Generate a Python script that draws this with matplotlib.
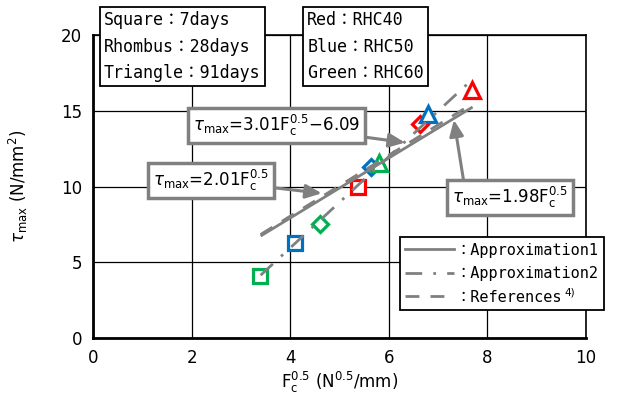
import matplotlib
matplotlib.use("Agg")
import matplotlib.pyplot as plt
from matplotlib.lines import Line2D

plt.rcParams['font.family'] = ['DejaVu Sans', 'Noto Sans CJK JP']
plt.rcParams['mathtext.fontset'] = 'dejavusans'

# data (x = Fc^0.5, y = tau_max)
sq_x = [3.39, 4.10, 5.37]          # 7 days
sq_y = [4.10, 6.30, 9.97]
sq_c = ['#00B050', '#0070C0', '#FF0000']
rh_x = [4.60, 5.64, 6.63]          # 28 days
rh_y = [7.52, 11.30, 14.10]
rh_c = ['#00B050', '#0070C0', '#FF0000']
tr_x = [5.80, 6.80, 7.69]          # 91 days
tr_y = [11.55, 14.80, 16.35]
tr_c = ['#00B050', '#0070C0', '#FF0000']

fit_x = [3.40, 7.70]
coef_approx1 = 1.98
coef_approx2 = (3.01, -6.09)
coef_ref = 2.01

gray = '#808080'
mono = ['DejaVu Sans Mono', 'Noto Sans CJK JP']

fig = plt.figure(figsize=(6.18, 3.97), dpi=100)
ax = fig.add_axes([0.1505, 0.1486, 0.7977, 0.7632])

y1 = [coef_approx1 * x for x in fit_x]
y2 = [coef_approx2[0] * x + coef_approx2[1] for x in fit_x]
y3 = [coef_ref * x for x in fit_x]
ax.plot(fit_x, y1, color=gray, lw=2, solid_capstyle='butt', zorder=3)
ax.plot(fit_x, y2, color=gray, lw=2, dashes=(6, 4, 1, 4), zorder=3)
ax.plot(fit_x, y3, color=gray, lw=2, dashes=(5, 4), zorder=3)

for x, y, c in zip(sq_x, sq_y, sq_c):
    ax.plot(x, y, 's', ms=10, mfc='white', mec=c, mew=2.3, zorder=2)
for x, y, c in zip(rh_x, rh_y, rh_c):
    ax.plot(x, y, 'D', ms=8.5, mfc='white', mec=c, mew=2.3, zorder=2)
for x, y, c in zip(tr_x, tr_y, tr_c):
    ax.plot(x, y, '^', ms=11, mfc='white', mec=c, mew=2.3, zorder=2)

ax.set_xlim(0, 10)
ax.set_ylim(0, 20)
ax.set_xticks([0, 2, 4, 6, 8, 10])
ax.set_yticks([0, 5, 10, 15, 20])
ax.grid(True, color='black', lw=0.9)
ax.set_axisbelow(True)
ax.tick_params(length=0, labelsize=12, pad=8)
for s in ['left', 'bottom']:
    ax.spines[s].set_linewidth(2)
for s in ['top', 'right']:
    ax.spines[s].set_linewidth(1.2)

ax.set_xlabel(r'F$_{\rm c}^{0.5}$ (N$^{0.5}$/mm)', fontsize=12, labelpad=2)
ax.set_ylabel(r'$\tau_{\rm max}$ (N/mm$^2$)', fontsize=12, labelpad=22)

box = dict(boxstyle='square,pad=0.25', fc='white', ec='black', lw=1.3)
fig.text(0.168, 0.972, 'Square：7days\nRhombus：28days\nTriangle：91days',
         ha='left', va='top', fontsize=12, family=mono, linespacing=1.6,
         bbox=box, zorder=5)
fig.text(0.497, 0.972, 'Red：RHC40\nBlue：RHC50\nGreen：RHC60',
         ha='left', va='top', fontsize=12, family=mono, linespacing=1.6,
         bbox=box, zorder=5)

ebox = dict(boxstyle='square,pad=0.3', fc='white', ec=gray, lw=2.5)
arr = dict(arrowstyle='-|>,head_length=0.8,head_width=0.35', color=gray, lw=2.2,
           shrinkA=0, shrinkB=0)
ax.annotate(r'$\tau_{\rm max}$=3.01F$_{\rm c}^{0.5}$$-$6.09', xy=(6.33, 12.9),
            xytext=(3.72, 14.05), ha='center', va='center', fontsize=12,
            bbox=ebox, arrowprops=arr, zorder=6)
ax.annotate(r'$\tau_{\rm max}$=2.01F$_{\rm c}^{0.5}$', xy=(4.64, 9.55),
            xytext=(2.40, 10.4), ha='center', va='center', fontsize=12,
            bbox=ebox, arrowprops=arr, zorder=6)
ax.annotate(r'$\tau_{\rm max}$=1.98F$_{\rm c}^{0.5}$', xy=(7.32, 14.4),
            xytext=(8.45, 9.25), ha='center', va='center', fontsize=12,
            bbox=ebox, arrowprops=dict(arr, relpos=(0.11, 1.0)),
            annotation_clip=False, zorder=6)

handles = [Line2D([], [], color=gray, lw=2),
           Line2D([], [], color=gray, lw=2, dashes=(6, 4, 1, 4)),
           Line2D([], [], color=gray, lw=2, dashes=(5, 4))]
labels = ['：Approximation1', '：Approximation2', '：References']
leg = ax.legend(handles, labels, loc='upper left', bbox_to_anchor=(0.623, 0.332),
                frameon=True, fancybox=False, edgecolor='black', framealpha=1,
                handlelength=3.2, handletextpad=0.1, borderpad=0.35,
                labelspacing=0.55, prop={'family': mono, 'size': 11},
                borderaxespad=0)
leg.get_frame().set_linewidth(1.3)
leg.set_zorder(7)

# superscript "4)" after the References label
fig.canvas.draw()
bb = leg.get_texts()[2].get_window_extent().transformed(fig.transFigure.inverted())
fig.text(bb.x1 + 0.003, (bb.y0 + bb.y1) / 2, '4)', fontsize=7.5, ha='left',
         va='bottom', zorder=8)

fig.savefig('out.png', dpi=100)
